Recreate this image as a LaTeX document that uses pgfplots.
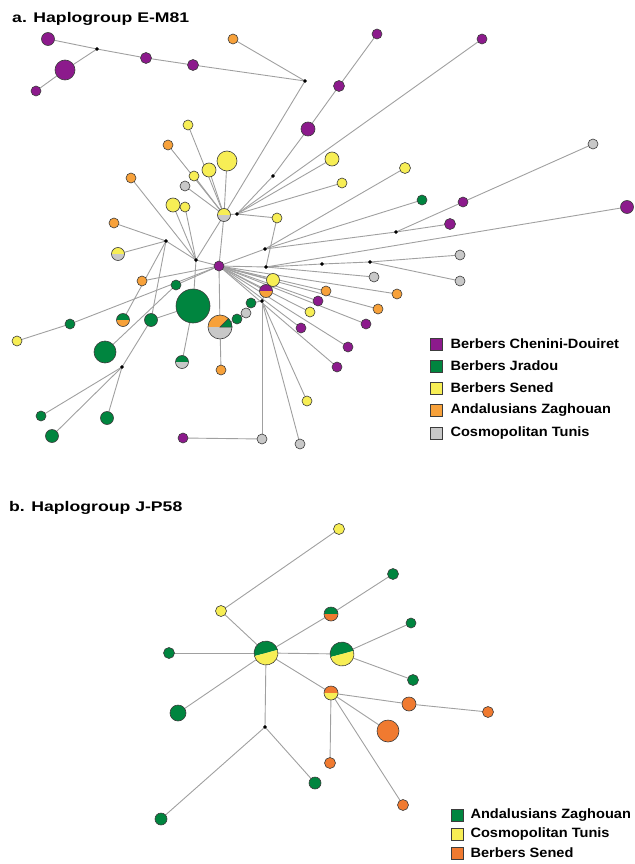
\documentclass[border=0pt]{standalone}
\usepackage{fontspec}
\setmainfont{Liberation Sans}
\newfontfamily\titlefont{Liberation Sans}[FakeStretch=1.26]
\newfontfamily\legfont{Liberation Sans}[FakeStretch=1.08]
\usepackage{pgfplots}
\pgfplotsset{compat=1.18}
\usetikzlibrary{plotmarks}
\definecolor{cpur}{RGB}{140,26,140}
\definecolor{cgrn}{RGB}{0,133,63}
\definecolor{cyel}{RGB}{247,238,85}
\definecolor{cora}{RGB}{247,161,58}
\definecolor{cgry}{RGB}{200,200,200}
\definecolor{corb}{RGB}{240,122,48}
\definecolor{edgec}{RGB}{160,160,160}
\definecolor{outl}{RGB}{60,60,60}
\pgfdeclareplotmark{wedge}{%
  \pgfpathmoveto{\pgfpointorigin}%
  \pgfpathlineto{\pgfpointpolar{0}{\pgfplotmarksize}}%
  \pgfpatharc{0}{45}{\pgfplotmarksize}%
  \pgfpathclose
  \pgfusepathqfillstroke}
\pgfplotsset{edge/.style={no markers, color=edgec, line width=0.9pt}}
\newcommand{\E}[4]{\addplot[edge] coordinates {(#1,#2) (#3,#4)};}
\newcommand{\N}[4]{\addplot[only marks, mark=*, mark size=#2, mark options={fill=#1, draw=outl, line width=0.6pt}] coordinates {(#3,#4)};}
\newcommand{\D}[2]{\addplot[only marks, mark=*, mark size=1.7, mark options={fill=black, draw=black}] coordinates {(#1,#2)};}
\newcommand{\Pie}[6]{\addplot[only marks, mark=halfcircle*, mark size=#3, mark options={fill=#1, mark color=#2, draw=outl, line width=0.6pt, rotate=#4}] coordinates {(#5,#6)};}
\newcommand{\Sq}[3]{\addplot[only marks, mark=square*, mark size=6, mark options={fill=#1, draw=outl, line width=0.6pt}] coordinates {(#2,#3)};}
\begin{document}
\begin{tikzpicture}
\begin{axis}[
  scale only axis, width=634pt, height=864pt,
  xmin=0, xmax=634, ymin=0, ymax=864, y dir=reverse,
  hide axis, clip=false,
]
\path (axis cs:0,0) rectangle (axis cs:634,864);
% ---------------- panel a: edges
\E{48}{39}{97}{49}
\E{65}{70}{97}{49}
\E{36}{91}{65}{70}
\E{97}{49}{146}{58}
\E{146}{58}{193}{65}
\E{193}{65}{305}{81}
\E{233}{39}{305}{81}
\E{305}{81}{224}{215}
\E{377}{34}{339}{86}
\E{339}{86}{308}{129}
\E{308}{129}{273}{176}
\E{273}{176}{237}{214}
\E{482}{39}{237}{214}
\E{237}{214}{224}{215}
\E{188}{125}{224}{215}
\E{168}{145}{224}{215}
\E{227}{161}{224}{215}
\E{209}{170}{224}{215}
\E{194}{176}{224}{215}
\E{185}{186}{224}{215}
\E{173}{205}{196}{260}
\E{185}{207}{196}{260}
\E{131}{178}{196}{260}
\E{196}{260}{224}{215}
\E{196}{260}{219}{266}
\E{196}{260}{193}{306}
\E{224}{215}{219}{266}
\E{219}{266}{220}{327}
\E{220}{327}{221}{370}
\E{277}{218}{237}{214}
\E{277}{218}{266}{267}
\E{332}{159}{237}{214}
\E{342}{183}{237}{214}
\E{405}{168}{265}{249}
\E{422}{200}{265}{249}
\E{265}{249}{219}{266}
\E{593}{144}{463}{202}
\E{463}{202}{396}{232}
\E{450}{224}{396}{232}
\E{396}{232}{265}{249}
\E{627}{207}{266}{267}
\E{266}{267}{219}{266}
\E{322}{264}{266}{267}
\E{322}{264}{370}{262}
\E{370}{262}{460}{255}
\E{370}{262}{460}{281}
\E{374}{277}{266}{267}
\E{219}{266}{273}{280}
\E{219}{266}{266}{291}
\E{219}{266}{326}{291}
\E{219}{266}{397}{294}
\E{219}{266}{318}{301}
\E{219}{266}{378}{309}
\E{219}{266}{310}{312}
\E{219}{266}{366}{324}
\E{219}{266}{301}{328}
\E{219}{266}{348}{347}
\E{219}{266}{337}{367}
\E{220}{327}{237}{319}
\E{237}{319}{246}{313}
\E{246}{313}{251}{303}
\E{251}{303}{262}{301}
\E{262}{301}{266}{291}
\E{262}{301}{307}{401}
\E{262}{301}{300}{444}
\E{262}{301}{262}{439}
\E{262}{439}{183}{438}
\E{114}{223}{166}{241}
\E{118}{254}{166}{241}
\E{166}{241}{196}{260}
\E{166}{241}{151}{320}
\E{123}{320}{166}{241}
\E{142}{281}{219}{266}
\E{70}{324}{219}{266}
\E{17}{341}{70}{324}
\E{176}{285}{219}{266}
\E{105}{352}{176}{285}
\E{151}{320}{193}{306}
\E{122}{367}{151}{320}
\E{122}{367}{41}{416}
\E{122}{367}{52}{436}
\E{122}{367}{107}{418}
\E{182}{362}{193}{306}
% ---------------- panel a: black median vectors
\D{97}{49} \D{305}{81} \D{273}{176} \D{237}{214} \D{166}{241} \D{196}{260}
\D{265}{249} \D{266}{267} \D{322}{264} \D{370}{262} \D{396}{232} \D{262}{301} \D{122}{367}
% ---------------- panel a: nodes
% purple
\N{cpur}{6.5}{48}{39} \N{cpur}{10}{65}{70} \N{cpur}{5}{36}{91} \N{cpur}{5.5}{146}{58}
\N{cpur}{5.5}{193}{65} \N{cpur}{5}{377}{34} \N{cpur}{5}{482}{39} \N{cpur}{5.5}{339}{86}
\N{cpur}{7}{308}{129} \N{cpur}{5}{463}{202} \N{cpur}{5.5}{450}{224} \N{cpur}{6.5}{627}{207}
\N{cpur}{5}{219}{266} \N{cpur}{5}{318}{301} \N{cpur}{5}{366}{324} \N{cpur}{5}{301}{328}
\N{cpur}{5}{348}{347} \N{cpur}{5}{337}{367} \N{cpur}{5}{183}{438}
% orange
\N{cora}{5}{233}{39} \N{cora}{5}{168}{145} \N{cora}{5}{131}{178} \N{cora}{5}{114}{223}
\N{cora}{5}{142}{281} \N{cora}{5}{326}{291} \N{cora}{5}{397}{294} \N{cora}{5}{378}{309}
\N{cora}{5}{221}{370}
% yellow
\N{cyel}{5}{188}{125} \N{cyel}{10}{227}{161} \N{cyel}{7}{209}{170} \N{cyel}{5}{194}{176}
\N{cyel}{7}{173}{205} \N{cyel}{5}{185}{207} \N{cyel}{5}{277}{218} \N{cyel}{7}{332}{159}
\N{cyel}{5}{342}{183} \N{cyel}{5.5}{405}{168} \N{cyel}{6.5}{273}{280} \N{cyel}{5}{310}{312}
\N{cyel}{5}{17}{341} \N{cyel}{5}{307}{401}
% grey
\N{cgry}{5}{185}{186} \N{cgry}{5}{593}{144} \N{cgry}{5}{460}{255} \N{cgry}{5}{374}{277}
\N{cgry}{5}{460}{281} \N{cgry}{5}{246}{313} \N{cgry}{5}{262}{439} \N{cgry}{5}{300}{444}
% green
\N{cgrn}{5}{422}{200} \N{cgrn}{5}{176}{285} \N{cgrn}{17}{193}{306} \N{cgrn}{5}{251}{303}
\N{cgrn}{5}{237}{319} \N{cgrn}{5}{70}{324} \N{cgrn}{6.5}{151}{320} \N{cgrn}{11}{105}{352}
\N{cgrn}{5}{41}{416} \N{cgrn}{6.5}{107}{418} \N{cgrn}{6.5}{52}{436}
% mixed
\Pie{cyel}{cgry}{6.5}{0}{224}{215}
\Pie{cyel}{cgry}{6.5}{0}{118}{254}
\Pie{cpur}{cora}{6.5}{0}{266}{291}
\Pie{cora}{cgry}{12}{0}{220}{327}
\addplot[only marks, mark=wedge, mark size=12, mark options={fill=cgrn, draw=outl, line width=0.5pt}] coordinates {(220,327)};
\Pie{cgrn}{cora}{6.5}{0}{123}{320}
\Pie{cgrn}{cgry}{6.5}{0}{182}{362}
% legend a
\Sq{cpur}{436.5}{344} \Sq{cgrn}{436.5}{366} \Sq{cyel}{436.5}{388} \Sq{cora}{436.5}{410} \Sq{cgry}{436.5}{433}
\node[anchor=west, font=\legfont\bfseries\fontsize{13.5}{15}\selectfont] at (447,344) {Berbers Chenini-Douiret};
\node[anchor=west, font=\legfont\bfseries\fontsize{13.5}{15}\selectfont] at (447,366) {Berbers Jradou};
\node[anchor=west, font=\legfont\bfseries\fontsize{13.5}{15}\selectfont] at (447,388) {Berbers Sened};
\node[anchor=west, font=\legfont\bfseries\fontsize{13.5}{15}\selectfont] at (447,410) {Andalusians Zaghouan};
\node[anchor=west, font=\legfont\bfseries\fontsize{13.5}{15}\selectfont] at (447,433) {Cosmopolitan Tunis};
\node[anchor=base west, inner sep=0pt, font=\titlefont\bfseries\fontsize{14}{16}\selectfont] at (12,23) {a. Haplogroup E-M81};
% ---------------- panel b
\E{339}{529}{221}{611}
\E{221}{611}{266}{653}
\E{393}{574}{331}{614}
\E{331}{614}{266}{653}
\E{169}{653}{266}{653}
\E{266}{653}{342}{654}
\E{342}{654}{411}{623}
\E{342}{654}{413}{680}
\E{266}{653}{331}{693}
\E{266}{653}{178}{713}
\E{266}{653}{265}{727}
\E{265}{727}{161}{819}
\E{265}{727}{315}{783}
\E{331}{693}{409}{704}
\E{409}{704}{488}{712}
\E{331}{693}{388}{731}
\E{331}{693}{330}{763}
\E{331}{693}{403}{805}
\D{265}{727}
\N{cyel}{5.5}{339}{529} \N{cgrn}{5.5}{393}{574} \N{cyel}{5.5}{221}{611}
\N{cgrn}{5}{411}{623} \N{cgrn}{5.5}{169}{653} \N{cgrn}{5.5}{413}{680}
\N{corb}{7}{409}{704} \N{corb}{5.5}{488}{712} \N{cgrn}{8}{178}{713}
\N{corb}{11}{388}{731} \N{corb}{5.5}{330}{763} \N{cgrn}{6}{315}{783}
\N{corb}{5.5}{403}{805} \N{cgrn}{6}{161}{819}
\Pie{cgrn}{corb}{7}{0}{331}{614}
\Pie{cgrn}{cyel}{12}{15}{266}{653}
\Pie{cgrn}{cyel}{12}{15}{342}{654}
\Pie{corb}{cyel}{7}{0}{331}{693}
% legend b
\Sq{cgrn}{457}{815} \Sq{cyel}{457}{834} \Sq{corb}{457}{853}
\node[anchor=west, font=\legfont\bfseries\fontsize{13.5}{15}\selectfont] at (467,815) {Andalusians Zaghouan};
\node[anchor=west, font=\legfont\bfseries\fontsize{13.5}{15}\selectfont] at (467,834) {Cosmopolitan Tunis};
\node[anchor=west, font=\legfont\bfseries\fontsize{13.5}{15}\selectfont] at (467,853) {Berbers Sened};
\node[anchor=base west, inner sep=0pt, font=\titlefont\bfseries\fontsize{14}{16}\selectfont] at (9,511) {b. Haplogroup J-P58};
\end{axis}
\end{tikzpicture}
\end{document}
